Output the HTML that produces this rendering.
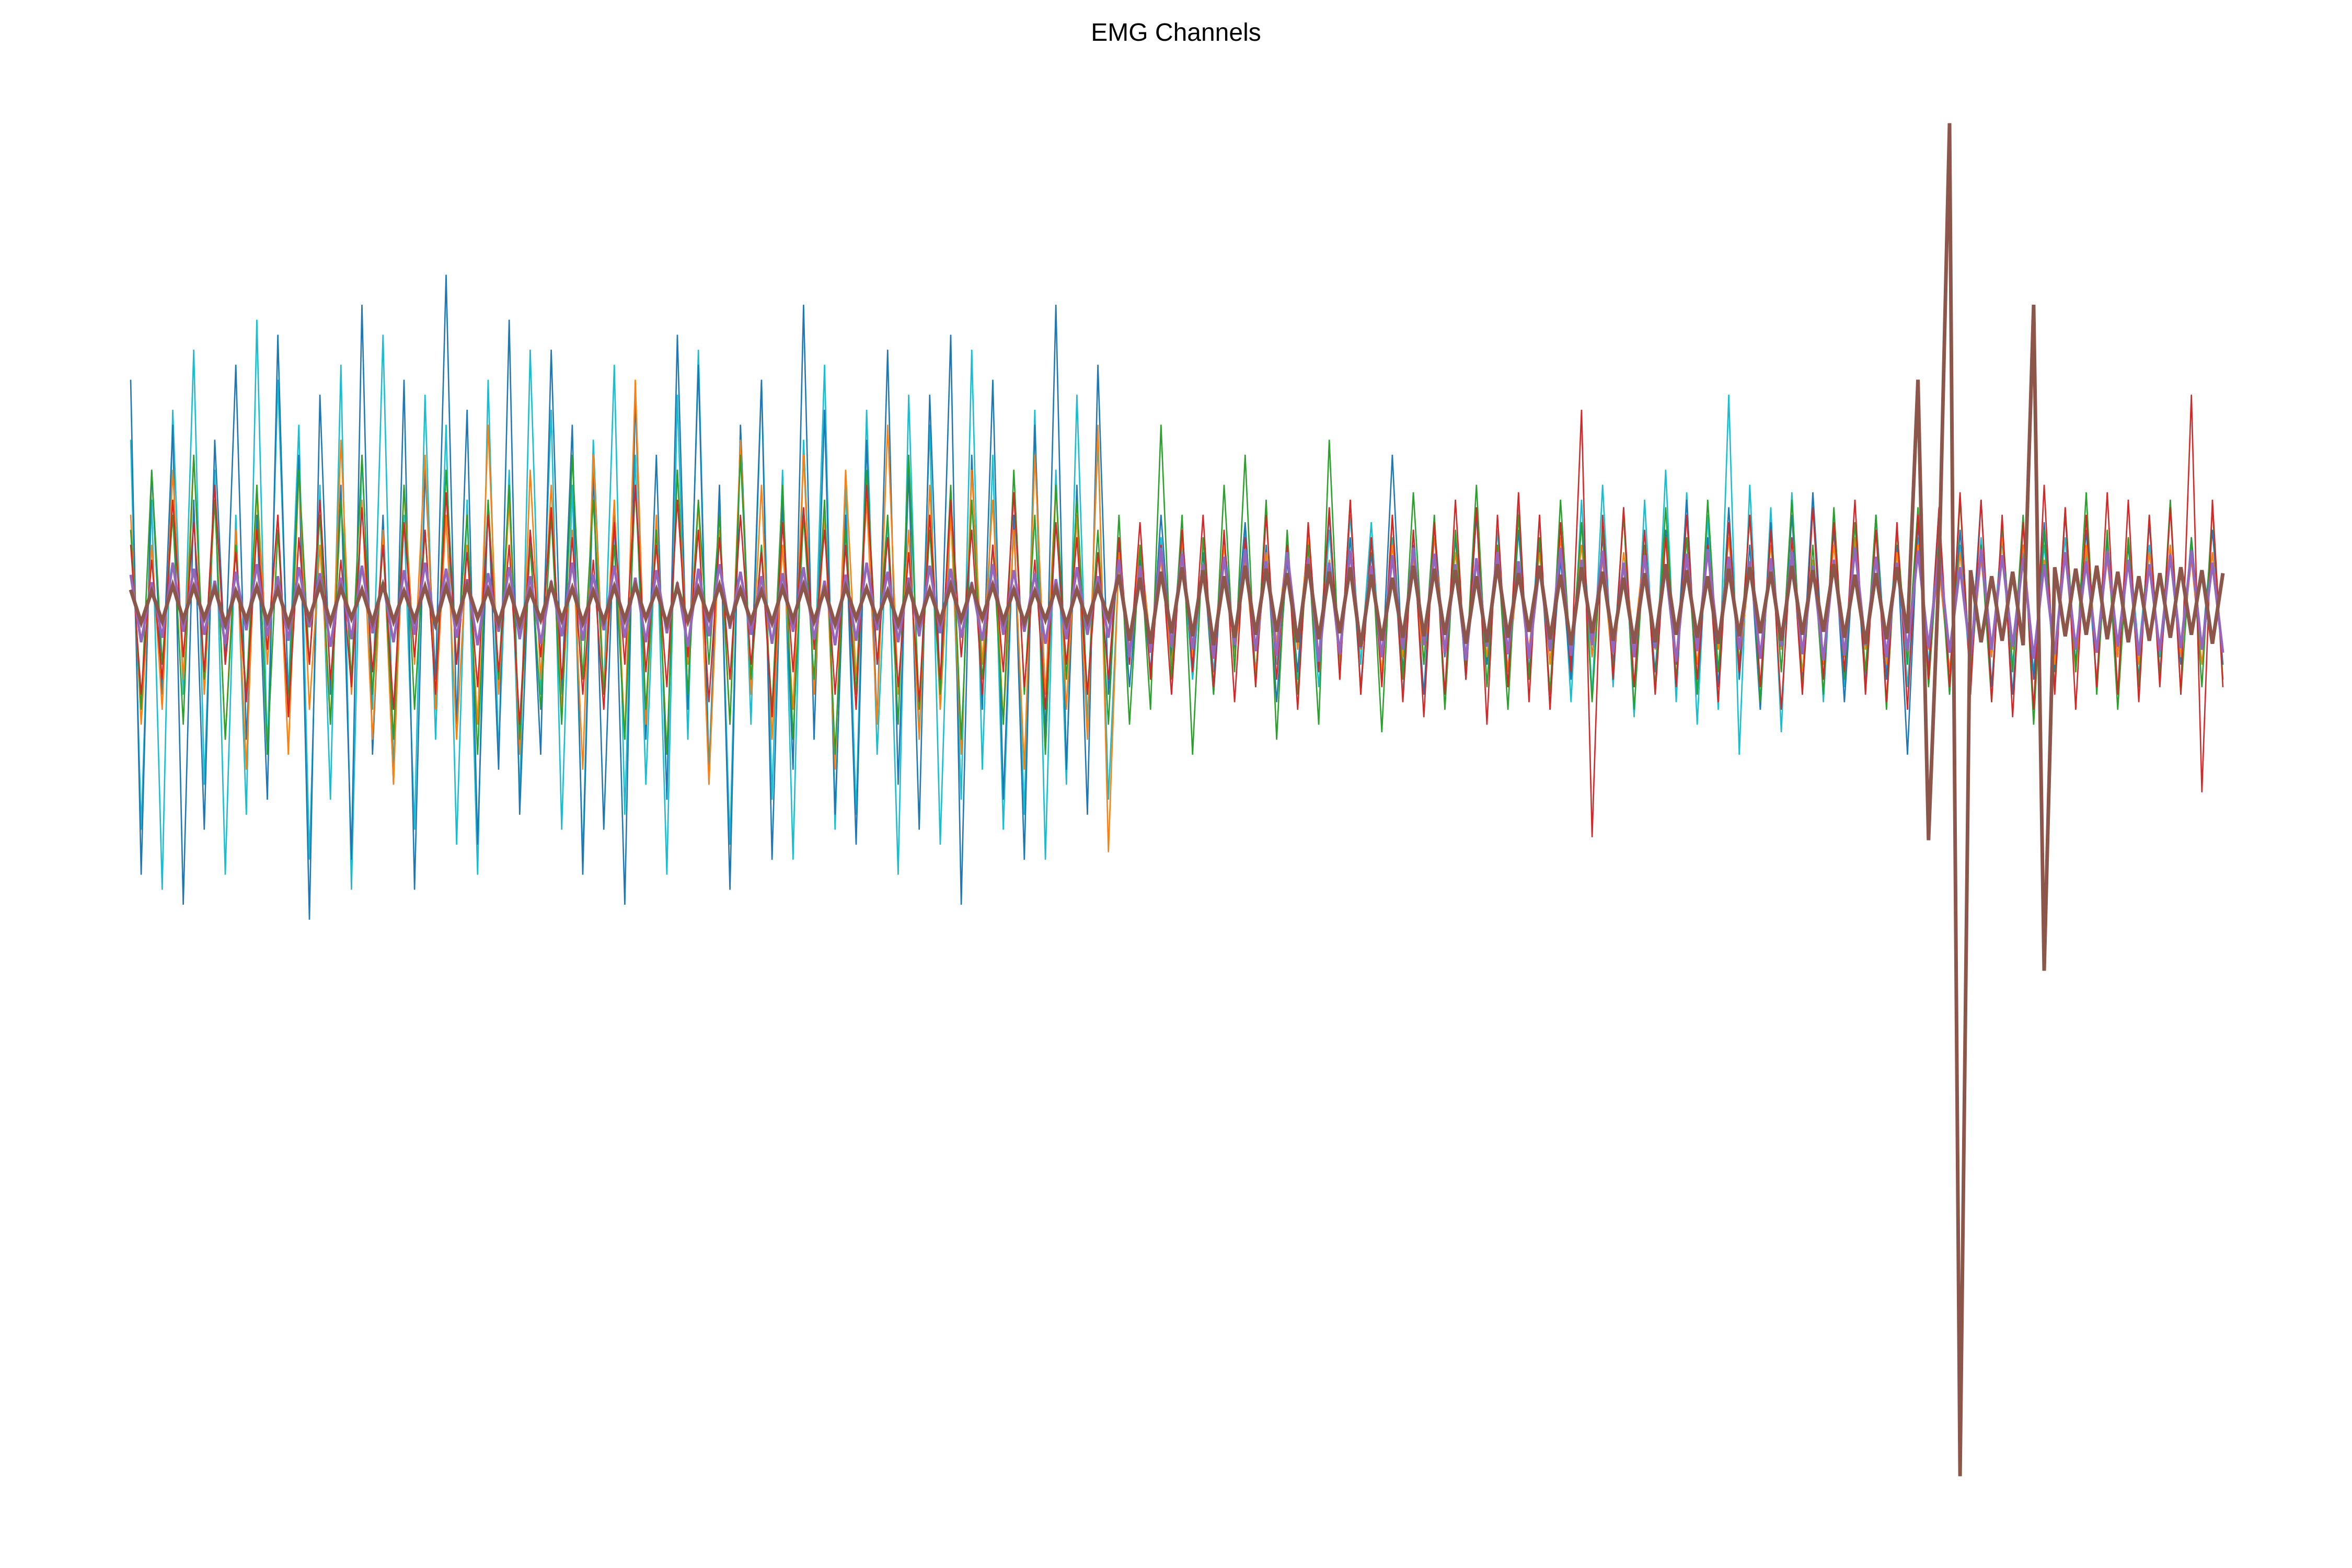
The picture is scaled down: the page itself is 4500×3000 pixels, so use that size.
<!DOCTYPE html>
<html><head><meta charset="utf-8"><title>EMG Channels</title>
<style>
html,body{margin:0;padding:0;background:#fff;}
#wrap{width:4500px;height:3000px;position:relative;overflow:hidden;}
</style></head>
<body>
<div id="wrap">
<svg id="chart" width="4500" height="3000" viewBox="0 0 4500 3000">
<text x="2250" y="78" text-anchor="middle" font-family="Liberation Sans, sans-serif" font-size="48" fill="#000">EMG Channels</text>
<g id="plot"></g>
</svg>
</div>
<script>
const channelNames = ["ch-cyan","ch-blue","ch-orange","ch-green","ch-red","ch-purple","ch-brown"];
const channelColors = ["#17becf","#1f77b4","#ff7f0e","#2ca02c","#d62728","#9467bd","#8c564b"];
const channelWidths = [2.6,2.6,2.6,2.6,2.6,5,7];
const blueValues = [150,-180,90,-60,120,-200,70,-150,110,-40,160,-90,60,-130,180,-70,100,-210,140,-60,80,-170,200,-100,60,-120,150,-190,90,-50,220,-80,130,-160,70,-110,190,-140,50,-100,170,-60,120,-180,90,-150,60,-200,140,-90,100,-130,180,-70,160,-120,80,-190,120,-60,150,-170,70,-110,200,-90,130,-140,60,-160,110,-80,170,-120,90,-150,140,-60,180,-200,100,-70,150,-130,60,-170,120,-90,200,-110,80,-140,160,-60,
40,-55,30,-45,60,-35,50,-40,35,-60,45,-30,55,-50,40,-65,30,-45,50,-35,60,-40,45,-55,35,-50,100,-45,40,-60,55,-35,45,-50,60,-40,35,-55,50,-45,40,-60,30,-50,55,-35,45,-40,60,-55,35,-45,50,-40,70,-60,45,-55,65,-50,40,-70,55,-45,60,-50,75,-40,50,-65,45,-55,60,-50,40,-100,55,-45,65,-60,50,-40,70,-55,45,-60,40,-50,55,-45,60,-40,50,-55,45,-35,40,-50,55,-45,35,-40,45,-30,50,-40];
const cyanValues = [110,-150,70,-190,130,-60,170,-120,90,-180,60,-140,190,-100,150,-60,120,-170,80,-130,160,-190,100,-70,180,-110,60,-150,140,-90,120,-160,70,-180,150,-100,90,-130,170,-60,130,-150,80,-170,110,-60,160,-140,100,-120,60,-180,140,-90,170,-110,70,-160,120,-80,150,-130,90,-170,110,-60,160,-150,80,-140,130,-100,60,-180,140,-90,120,-160,70,-130,170,-110,100,-150,60,-140,130,-170,90,-120,140,-80,110,-130,
30,-40,35,-30,45,-35,40,-50,35,-45,40,-35,50,-45,35,-40,45,-50,40,-55,50,-45,60,-40,55,-50,45,-60,50,-40,55,-60,45,-50,60,-55,50,-45,65,-50,60,-70,55,-65,70,-60,80,-55,65,-75,70,-60,90,-65,75,-80,60,-70,140,-100,80,-70,65,-85,75,-60,70,-65,60,-55,55,-50,60,-45,50,-55,45,-40,50,-45,40,-50,45,-35,50,-40,35,-45,40,-35,45,-40,35,-50,40,-35,45,-30,40,-35,30,-35,40,-30,35,-40];
const orangeValues = [60,-80,40,-70,90,-50,100,-60,70,-90,50,-110,80,-40,60,-100,90,-70,40,-80,110,-60,70,-90,50,-120,80,-40,100,-70,60,-90,40,-80,120,-60,70,-100,90,-50,80,-70,50,-110,100,-60,70,-90,150,-80,60,-100,90,-40,70,-120,50,-80,110,-60,80,-90,40,-70,100,-60,60,-110,90,-50,70,-80,120,-60,50,-90,80,-70,60,-100,90,-40,70,-80,50,-110,100,-60,80,-70,60,-90,120,-165,
35,-30,40,-25,30,-40,45,-35,25,-30,40,-35,30,-45,35,-25,40,-30,45,-35,30,-40,35,-30,25,-45,40,-35,30,-40,45,-30,35,-40,30,-35,40,-45,25,-30,35,-40,45,-30,40,-35,30,-45,35,-25,40,-30,45,-35,30,-40,35,-30,45,-40,25,-35,40,-30,35,-45,30,-40,40,-35,45,-30,30,-40,35,-35,40,-30,25,-45,35,-40,30,-35,45,-30,40,-35,30,-40,35,-45,40,-30,30,-35,45,-40,35,-30,40,-35,30,-40,35,-30];
const greenValues = [50,-70,90,-40,60,-80,100,-50,70,-90,40,-60,80,-100,50,-70,90,-40,60,-80,70,-50,100,-60,40,-90,80,-70,50,-60,90,-40,60,-100,70,-50,80,-90,40,-70,60,-80,100,-50,70,-60,40,-90,80,-70,50,-100,90,-60,70,-40,60,-80,100,-50,40,-70,80,-90,60,-50,70,-100,50,-60,90,-40,60,-80,100,-70,50,-60,80,-90,70,-50,40,-80,90,-60,60,-100,80,-50,70,-60,50,-80,
60,-80,40,-70,120,-50,60,-100,45,-60,80,-45,100,-55,70,-90,50,-60,40,-80,110,-50,70,-60,45,-85,60,-50,75,-40,60,-70,50,-45,80,-55,40,-70,60,-50,45,-60,70,-40,55,-65,50,-45,60,-70,40,-55,65,-50,45,-60,70,-45,55,-40,60,-65,50,-45,70,-55,40,-60,65,-50,55,-45,60,-70,50,-40,65,-55,45,-60,70,-50,40,-65,55,-45,60,-80,50,-55,65,-45,75,-60,50,-70,45,-55,60,-50,70,-60,45,-55,65,-50];
const redValues = [40,-60,30,-50,70,-35,55,-45,80,-40,35,-65,50,-30,60,-75,45,-40,70,-50,30,-55,65,-45,40,-70,55,-35,50,-60,75,-40,35,-55,60,-45,40,-80,50,-35,65,-50,45,-60,30,-70,55,-40,80,-45,40,-55,70,-35,50,-65,45,-50,60,-40,35,-75,55,-45,65,-30,50,-60,40,-70,80,-40,45,-55,35,-65,60,-50,70,-35,50,-60,40,-45,75,-55,30,-70,55,-40,45,-60,35,-50,
45,-40,55,-50,40,-60,50,-45,60,-55,50,-65,45,-55,60,-50,40,-70,55,-45,65,-50,70,-60,45,-55,60,-65,50,-75,55,-60,70,-50,65,-80,60,-55,75,-65,60,-70,55,-45,130,-155,60,-50,65,-55,50,-60,45,-55,60,-50,40,-65,55,-45,60,-55,50,-70,45,-60,65,-50,55,-45,70,-60,50,-65,55,-70,60,-50,65,-55,75,-60,70,-65,60,-75,55,-70,80,-60,65,-70,60,-55,75,-60,70,-65,60,-55,65,-60,140,-125,70,-55];
const purpleValues = [20,-25,15,-22,28,-18,24,-20,16,-26,22,-17,27,-21,19,-24,25,-15,21,-28,18,-23,26,-19,15,-25,23,-20,28,-16,24,-22,17,-27,21,-18,25,-23,19,-26,16,-21,28,-24,20,-17,26,-22,18,-25,23,-19,15,-28,24,-21,27,-16,22,-20,19,-26,21,-18,25,-23,16,-27,20,-24,28,-17,22,-25,18,-21,26,-19,24,-22,15,-24,27,-20,23,-18,21,-26,17,-23,25,-20,19,-22,
30,-35,26,-32,38,-28,34,-30,27,-36,32,-27,37,-31,29,-34,35,-25,31,-38,28,-33,36,-29,26,-35,33,-30,38,-27,34,-32,27,-37,31,-28,35,-33,29,-36,26,-31,38,-34,30,-27,36,-32,28,-35,33,-29,25,-38,34,-31,37,-26,32,-30,29,-36,31,-28,35,-33,26,-37,30,-34,38,-27,32,-35,28,-31,36,-29,34,-32,25,-34,37,-30,33,-28,31,-36,27,-33,35,-30,29,-32,36,-28,30,-34,27,-31,33,-29,36,-30,28,-32];
const brownValues = [10,-12,9,-11,13,-10,12,-9,11,-13,9,-10,12,-11,10,-13,11,-9,13,-12,11,-9,10,-12,13,-11,9,-10,12,-13,12,-11,13,-9,10,-12,11,-13,9,-10,13,-10,11,-12,9,-11,12,-10,13,-9,10,-13,12,-11,11,-9,13,-12,10,-11,9,-12,11,-10,13,-11,10,-13,12,-9,11,-10,9,-13,12,-12,10,-11,13,-10,12,-9,13,-11,10,-12,9,-10,11,-13,10,-11,12,-9,
20,-24,18,-26,22,-19,25,-21,23,-27,19,-22,26,-20,24,-18,21,-25,27,-23,22,-19,25,-28,20,-24,18,-22,26,-21,24,-20,23,-26,19,-25,27,-22,21,-18,26,-23,20,-27,25,-19,22,-24,18,-26,21,-25,27,-20,23,-22,19,-26,24,-21,25,-19,22,-24,26,-20,23,-18,27,-22,20,-26,21,-23,25,-19,150,-157,24,321,-581,23,-25,19,-24,22,-27,200,-244,25,-21,24,-20,26,-23,22,-25,19,-24,21,-22,25,-20,23,-26,21];
const allValues = [cyanValues,blueValues,orangeValues,greenValues,redValues,purpleValues,brownValues];

const plotLeft = 250, plotRight = 4253, baseY = 1157, unit = 2.87;
function xScale(i, n){ return plotLeft + (plotRight - plotLeft) * i / (n - 1); }
function yScale(v){ return baseY - v * unit; }

const plot = document.getElementById('plot');
const NS = "http://www.w3.org/2000/svg";
allValues.forEach((vals, c) => {
  const pts = vals.map((v, i) => xScale(i, vals.length).toFixed(1) + "," + yScale(v).toFixed(1)).join(" ");
  const pl = document.createElementNS(NS, "polyline");
  pl.setAttribute("points", pts);
  pl.setAttribute("fill", "none");
  pl.setAttribute("stroke", channelColors[c]);
  pl.setAttribute("stroke-width", channelWidths[c]);
  pl.setAttribute("stroke-linejoin", "miter");
  
  
  plot.appendChild(pl);
});
</script>
</body></html>
